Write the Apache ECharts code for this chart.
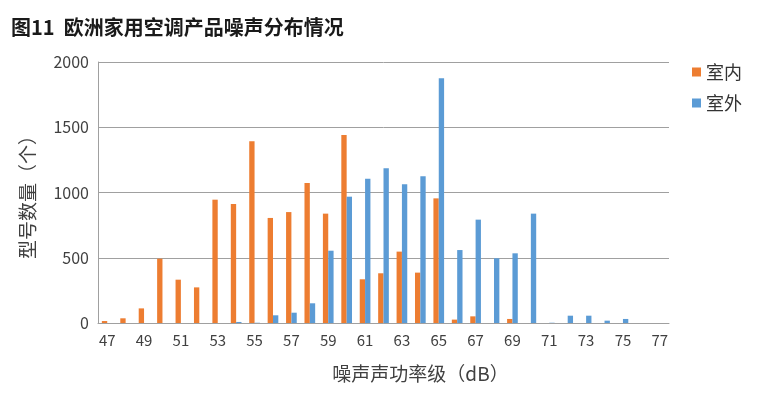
<!DOCTYPE html>
<html><head><meta charset="utf-8">
<script src="https://cdn.jsdelivr.net/npm/echarts@6/dist/echarts.min.js"></script>
<style>html,body{margin:0;padding:0;background:#fff}#c{width:758px;height:402px}</style>
</head><body><div id="c"></div>
<script>
const categories = ['47','48','49','50','51','52','53','54','55','56','57','58','59','60','61','62','63','64','65','66','67','68','69','70','71','72','73','74','75','76','77'];
const indoor  = [15,36,112,493,332,273,945,912,1392,805,850,1073,838,1441,335,381,547,386,955,26,51,0,31,0,0,0,0,0,0,0,0];
const outdoor = [0,0,0,0,0,0,0,8,2,59,79,151,554,968,1106,1185,1063,1124,1875,559,792,496,534,838,2,56,56,18,31,0,0];
const seriesNames = ['室内','室外'];
const yTicks = {min:0, max:2000, interval:500};
const font = '"Noto Sans CJK SC", "Noto Sans", sans-serif';
const chart = echarts.init(document.getElementById('c'));
chart.setOption({
  animation:false,
  title:{text:'图11  欧洲家用空调产品噪声分布情况', left:6, top:12,
    textStyle:{fontFamily:font, fontSize:20, fontWeight:'bold', color:'#1a1a1a'}},
  legend:{orient:'vertical', left:687, top:58, itemWidth:9, itemHeight:9, itemGap:13,
    icon:'rect', textStyle:{fontFamily:font, fontSize:18, color:'#333'}, data:seriesNames},
  grid:{left:98, right:89, top:62, bottom:79},
  xAxis:{type:'category', data:categories,
    axisLine:{lineStyle:{color:'#a0a0a0'}}, axisTick:{show:false},
    axisLabel:{interval:1, fontFamily:font, fontSize:15, color:'#404040', margin:10},
    name:'噪声声功率级（dB）', nameLocation:'middle', nameGap:41,
    nameTextStyle:{fontFamily:font, fontSize:19, color:'#404040', padding:[0,0,0,74]}},
  yAxis:{type:'value', min:yTicks.min, max:yTicks.max, interval:yTicks.interval,
    axisLine:{show:true, lineStyle:{color:'#a0a0a0'}}, axisTick:{show:false},
    splitLine:{lineStyle:{color:'#a0a0a0'}},
    axisLabel:{fontFamily:font, fontSize:16, color:'#404040', margin:9, formatter:v=>String(v)},
    name:'型号数量（个）', nameLocation:'middle', nameRotate:90, nameGap:61,
    nameTextStyle:{fontFamily:font, fontSize:19, color:'#404040'}},
  series:[
    {name:seriesNames[0], type:'bar', data:indoor, barWidth:'29%', barGap:'0%', itemStyle:{color:'#ED7D31'}},
    {name:seriesNames[1], type:'bar', data:outdoor, barWidth:'29%', barGap:'0%', itemStyle:{color:'#5B9BD5'}}
  ]
});
</script></body></html>
